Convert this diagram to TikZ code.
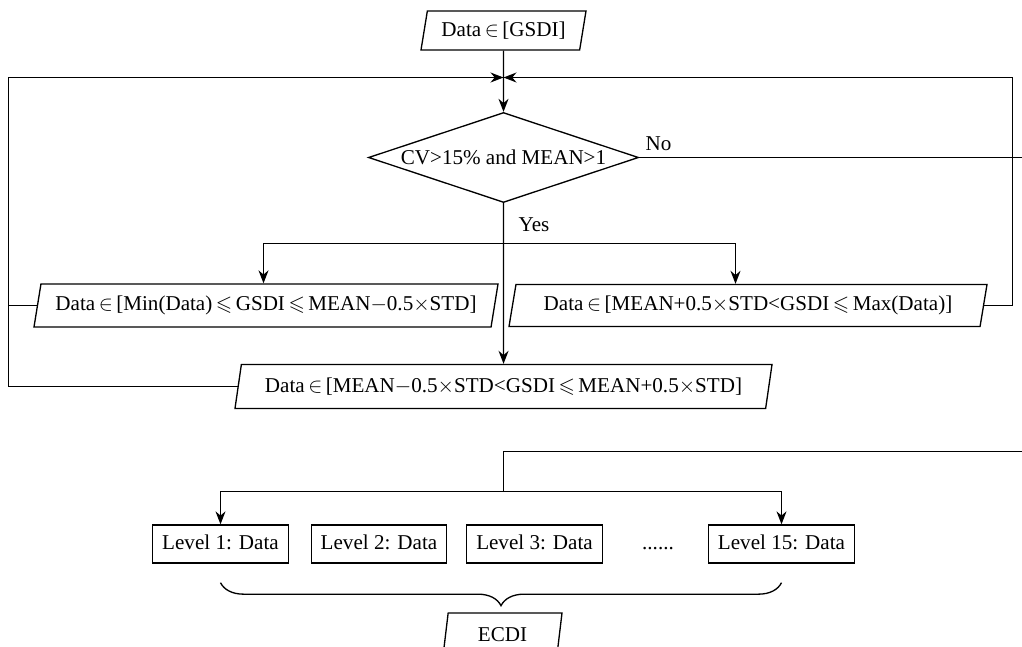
\documentclass[tikz,border=0pt]{standalone}
\usepackage{amsmath}
\usepackage{amssymb}
\usepackage{fontspec}
\setmainfont{Liberation Serif}
\usetikzlibrary{shapes.geometric,arrows.meta,decorations.pathreplacing}

\begin{document}
\begin{tikzpicture}[x=0.2mm,y=-0.2mm,line width=0.75pt,
  font=\fontsize{12}{14}\selectfont,
  >={Stealth[length=2.6mm,width=2mm]},
  io/.style={trapezium,trapezium left angle=70,trapezium right angle=110,
    trapezium stretches body,draw,inner sep=0pt},
  lv/.style={rectangle,draw,inner xsep=1.9mm,minimum height=7.6mm,
    text height=1.6ex,text depth=.3ex}]
\useasboundingbox (0,0) rectangle (1022,646);
\node [io,minimum width=33mm,minimum height=7.8mm] (in) at (503.5,30.5) {Data\,$\in$\,[GSDI]};
\node [diamond,draw,aspect=3,inner sep=0pt,minimum width=54mm,minimum height=18mm] (cv) at (503.5,157.5) {CV>15\% and MEAN>1};
\node [io,minimum width=92.8mm,minimum height=8.6mm] (lo) at (266,305.5)
  {Data\,$\in$\,[Min(Data)\,$\leqslant$\,GSDI\,$\leqslant$\,MEAN$-$0.5$\times$STD]};
\node [io,minimum width=95.6mm,minimum height=8.4mm] (hi) at (748,305.5)
  {Data\,$\in$\,[MEAN+0.5$\times$STD<GSDI\,$\leqslant$\,Max(Data)]};
\node [io,minimum width=107.4mm,minimum height=8.8mm] (mid) at (503.5,386.5)
  {Data\,$\in$\,[MEAN$-$0.5$\times$STD<GSDI\,$\leqslant$\,MEAN+0.5$\times$STD]};
\node [lv] (l1) at (220.5,544) {Level 1: Data};
\node [lv] (l2) at (379,544) {Level 2: Data};
\node [lv] (l3) at (534.5,544) {Level 3: Data};
\node [lv,draw=none] (dots) at (658,544) {......};
\node [lv] (l15) at (781.5,544) {Level 15: Data};
\node [io,minimum width=23.8mm,minimum height=8.6mm] (out) at (502.5,634.5) {ECDI};
\coordinate (jn) at (503.5,77.5);
\coordinate (lc) at (8.5,77.5);
\coordinate (rc) at (1012.5,77.5);
\coordinate (no) at (1022,157.5);
\coordinate (sl) at (263.5,243.5);
\coordinate (sr) at (735.5,243.5);
\coordinate (bk) at (1022,451.5);
\coordinate (bs) at (503.5,491.5);
\draw[->] (in) -- (cv);
\draw[->] (lo.west) -| (lc) -- (jn);
\draw (mid.west) -| (lc);
\draw[->] (hi.east) -| (rc) -- (jn);
\draw (cv.east) -- (no) node [pos=0,above right] {No};
\draw[->] (cv.south) -- (mid.north);
\node (yes) at (534,225) {Yes};
\draw[<->] (sl |- lo.north) -- (sl) -- (sr) -- (sr |- hi.north);
\draw (bk) -| (bs);
\draw[<->] (l1.north) |- (bs) -| (l15.north);
\draw[decorate,decoration={brace,mirror,amplitude=4.6mm}]
  ([yshift=-3.8mm]l1.south) -- ([yshift=-3.8mm]l15.south);
\end{tikzpicture}
\end{document}
